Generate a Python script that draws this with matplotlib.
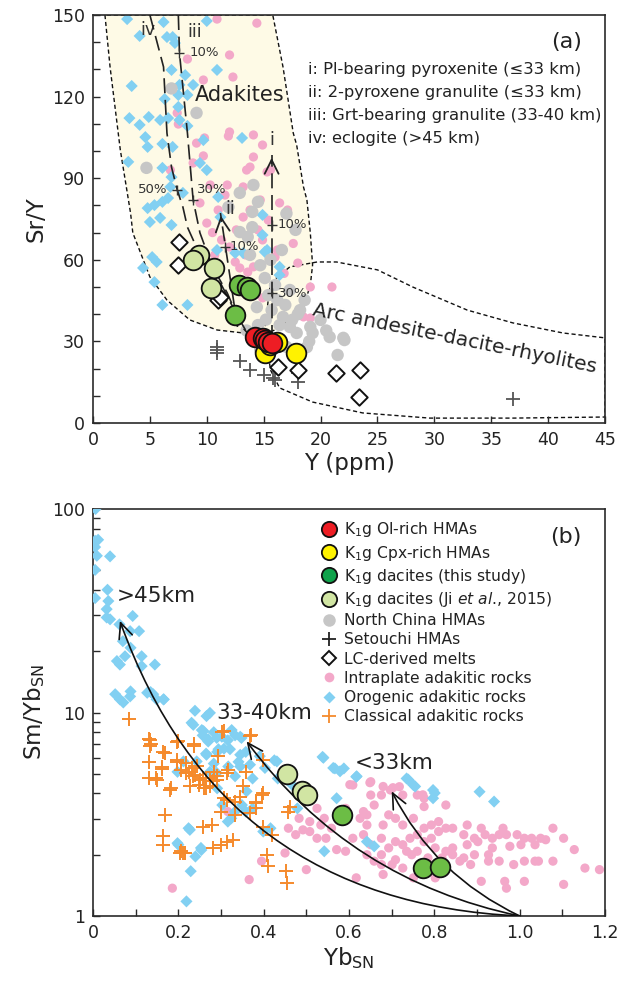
import matplotlib
matplotlib.use("Agg")
import matplotlib.pyplot as plt
import numpy as np
from matplotlib.lines import Line2D
from matplotlib.patches import Polygon, FancyArrowPatch
from matplotlib.ticker import MultipleLocator, FixedLocator, LogLocator, NullFormatter, FuncFormatter

plt.rcParams['font.family'] = ['DejaVu Sans']
plt.rcParams['mathtext.fontset'] = 'dejavusans'

# ---------------- Panel (a) data: Y (ppm) vs Sr/Y ----------------
red_y = [14.2, 14.9, 15.1, 15.4, 15.7]
red_sry = [31.6, 31.3, 30.5, 29.8, 29.4]
yel_y = [15.1, 15.6, 16.2, 17.8]
yel_sry = [25.7, 28.7, 29.8, 25.7]
grn_y = [12.8, 13.5, 13.8, 12.5]
grn_sry = [50.7, 50.1, 48.9, 39.7]
lgr_y = [9.3, 8.8, 10.6, 10.4]
lgr_sry = [61.8, 59.9, 56.9, 49.5]
nch_y = [6.9, 9.1, 4.7, 12.9, 14.1, 14.5, 14.0, 11.9, 14.0, 12.9, 13.6, 13.8, 15.1, 14.4,
         16.2, 16.7, 17.3, 17.9, 19.1, 20.0, 20.8, 22.0, 21.5, 14.7, 19.3, 18.8, 22.1, 15.4,
         15.7, 16.9, 16.4, 17.5, 18.2, 18.6, 17.3, 16.0, 14.7, 15.6, 16.6, 17.8, 17.0, 16.5,
         17.0, 19.0, 20.5, 14.5, 13.5, 15.2, 18.0]
nch_sry = [123, 114, 93.8, 84.6, 87.5, 81.3, 77.6, 79.4, 72.0, 70.2, 68.4, 61.8, 53.3, 42.6,
           45.2, 39.0, 35.3, 33.1, 35.3, 37.9, 31.6, 31.3, 25.0, 26.8, 33.1, 27.9, 30.5, 47.0,
           41.5, 43.4, 36.0, 37.9, 41.5, 45.2, 48.9, 50.7, 58.0, 60.0, 63.6, 71.0, 77.0, 30.0,
           28.0, 30.0, 34.0, 36.0, 34.0, 38.0, 40.0]
seto_y = [10.9, 10.9, 10.9, 12.9, 13.8, 15.0, 15.8, 16.0, 18.0, 18.0, 36.9]
seto_sry = [28.0, 26.8, 25.6, 22.9, 19.5, 17.6, 16.4, 15.8, 18.3, 15.2, 8.8]
lc_y = [7.6, 7.5, 11.0, 11.2, 16.3, 18.0, 21.4, 23.5, 23.4]
lc_sry = [66.5, 58.1, 45.2, 46.3, 20.7, 19.5, 18.4, 19.5, 9.6]
intra_y = [10.9, 14.4, 12.0, 8.3, 12.3, 9.7, 7.4, 7.5, 14.1, 14.9, 11.9, 9.8, 9.1, 9.7, 8.8,
           14.1, 13.8, 15.6, 6.8, 13.2, 16.4, 17.1, 12.0, 13.5, 15.3, 11.8, 17.1, 13.2, 16.2,
           18.0, 14.1, 16.0, 9.4, 10.0, 14.9, 21.0, 18.5, 12.0, 13.6, 14.2, 14.9, 19.1, 18.2,
           19.1, 11.0, 11.6, 10.3, 12.6, 13.4, 11.3, 10.7, 12.5, 15.4, 14.5, 14.7, 13.8, 16.8,
           17.6, 10.5, 12.9]
intra_sry = [148.5, 147, 135.3, 133.8, 127.2, 126.1, 114.0, 109.9, 105.9, 102.2, 105.5,
             104.8, 102.9, 98.2, 95.6, 97.8, 94.1, 93.0, 93.0, 86.8, 80.9, 77.6, 107.0, 93.0,
             92.3, 87.5, 78.3, 75.7, 63.6, 58.8, 57.4, 61.0, 80.9, 73.5, 67.3, 50.0, 39.0,
             64.7, 55.5, 48.9, 46.0, 50.0, 39.7, 38.6, 78.3, 83.8, 87.5, 71.0, 61.8, 67.3,
             61.8, 59.2, 74.6, 71.0, 82.0, 78.3, 55.0, 66.0, 70.0, 57.0]
oro_y = [3.0, 6.2, 10.0, 4.1, 6.5, 7.2, 7.0, 6.9, 8.1, 10.9, 3.4, 7.6, 8.8, 6.3, 7.5, 8.3,
         7.5, 3.2, 4.9, 5.9, 6.6, 4.1, 7.6, 8.3, 9.7, 13.1, 4.6, 4.8, 6.1, 7.0, 3.1, 6.1,
         10.0, 9.4, 6.9, 7.9, 4.8, 6.1, 6.6, 11.0, 6.8, 5.4, 5.0, 5.9, 6.9, 4.4, 5.6, 5.2,
         5.4, 6.1, 8.3, 14.9, 15.1, 16.4, 16.4, 11.2, 13.2, 10.9, 14.9, 15.3, 12.5]
oro_sry = [148.5, 147.4, 147.8, 142.3, 141.9, 139.7, 141.9, 129.8, 127.9, 129.8, 123.9,
           124.3, 124.3, 119.1, 120.6, 120.6, 116.2, 112.1, 112.5, 111.4, 112.1, 109.6,
           111.4, 109.2, 104.0, 104.8, 105.1, 101.5, 102.6, 101.5, 96.0, 93.8, 93.0, 95.6,
           90.4, 84.6, 79.0, 81.3, 82.7, 83.1, 86.8, 80.1, 73.9, 75.4, 72.8, 57.0, 59.2,
           61.0, 51.8, 43.4, 43.4, 76.5, 62.9, 57.4, 54.4, 75.7, 62.5, 63.6, 69.1, 63.6, 62.5]

# field outlines (a)
adak_y = [1.05, 1.5, 2.4, 3.3, 3.5, 5.0, 6.5, 8.5, 10.9, 13.2, 14.5, 16.0, 17.3, 18.5,
          19.1, 19.3, 19.1, 18.8, 18.5, 17.9, 17.6, 16.7, 15.8]
adak_sry = [150, 130.9, 100.4, 77.2, 69.9, 53.7, 45.2, 37.9, 34.2, 33.1, 32.0, 34.2, 37.9,
            42.6, 50.7, 58.1, 69.9, 82.0, 86.8, 102.2, 106.6, 130.9, 150]
arc_y = [15.6, 17.3, 19.7, 21.4, 25.0, 28.1, 32.9, 36.9, 41.3, 45.0, 45.0, 36.9, 29.6,
         23.7, 19.3, 16.4, 15.6, 15.1, 15.4]
arc_sry = [51.5, 57.4, 59.2, 59.2, 56.3, 50.0, 41.5, 36.8, 33.1, 31.3, 2.2, 1.8, 1.8,
           3.7, 7.7, 12.9, 19.5, 34.2, 45.2]

# melting trends (a)
iv_y = [5.0, 6.2, 6.5, 6.9, 7.4, 7.9, 8.3, 9.4, 11.2, 12.65, 13.4]
iv_sry = [150, 130.9, 106.6, 94.1, 85.7, 79.4, 72.0, 61.8, 51.5, 39.7, 34.2]
iii_y = [7.5, 7.6, 8.3, 8.8, 9.4, 10.5, 11.8, 13.1, 13.6]
iii_sry = [150, 136, 106.6, 82, 69.9, 57.4, 47.8, 35.3, 33.0]
ii_y = [12.7, 11.2]
ii_sry = [35.3, 77.2]
i_y = [15.7, 15.7]
i_sry = [30.5, 98.5]
tick_y = [11.6, 7.6, 8.8, 7.4, 15.7, 15.7]
tick_sry = [64.7, 136, 82, 85.7, 72.8, 47.8]
tick_txt = ['10%', '10%', '30%', '50%', '10%', '30%']
tick_txt_y = [12.0, 8.5, 9.15, 6.5, 16.2, 16.3]
tick_txt_sry = [64.8, 136.2, 85.7, 85.7, 72.8, 47.7]
tick_txt_ha = ['left', 'left', 'left', 'right', 'left', 'left']

legend_a = ['i: Pl-bearing pyroxenite (≤33 km)', 'ii: 2-pyroxene granulite (≤33 km)',
            'iii: Grt-bearing granulite (33-40 km)', 'iv: eclogite (>45 km)']

# ---------------- Panel (b) data: Yb_SN vs Sm/Yb_SN ----------------
grn_yb = [0.583, 0.774, 0.813]
grn_smyb = [3.15, 1.72, 1.75]
lgr_yb = [0.455, 0.489, 0.502]
lgr_smyb = [5.01, 4.13, 3.95]
intra_yb = [0.186, 0.366, 0.395, 0.450, 0.500, 0.475, 0.508, 0.534, 0.546, 0.571, 0.592,
            0.617, 0.609, 0.634, 0.651, 0.676, 0.680, 0.659, 0.680, 0.709, 0.726, 0.747,
            0.751, 0.802, 0.785, 0.818, 0.843, 0.869, 0.885, 0.910, 0.927, 0.965, 0.969,
            1.011, 1.036, 1.049, 1.078, 1.103, 1.128, 1.153, 1.187, 1.078, 1.103, 1.061,
            1.028, 1.011, 0.994, 0.969, 0.952, 0.936, 0.919, 0.894, 0.869, 0.843, 0.827,
            0.810, 0.793, 0.776, 0.760, 0.743, 0.726, 0.709, 0.693, 0.676, 0.642, 0.626,
            0.634, 0.659, 0.651, 0.676, 0.697, 0.718, 0.726, 0.760, 0.776, 0.776, 0.827,
            0.751, 0.726, 0.709, 0.693, 0.651, 0.642, 0.609, 0.592, 0.575, 0.559, 0.542,
            0.525, 0.508, 0.483, 0.458, 0.492, 0.525, 0.843, 0.877, 0.894, 0.927, 0.952,
            0.986, 1.011, 1.044, 0.977, 1.003, 1.036, 0.802, 0.827, 0.860, 0.760, 0.735,
            0.701, 0.676, 0.642, 0.902, 0.936, 0.961, 0.810, 0.793, 0.877, 0.910, 0.776,
            0.602, 0.649, 0.680, 0.703, 0.773, 0.316]
intra_smyb = [1.37, 1.51, 1.86, 2.04, 1.69, 2.51, 2.60, 2.80, 2.41, 2.12, 2.08, 1.54, 2.41,
              2.51, 2.24, 2.41, 2.80, 1.86, 1.60, 1.89, 1.72, 2.00, 1.54, 1.54, 1.93, 1.93,
              2.00, 1.93, 1.79, 1.48, 2.00, 1.48, 1.37, 1.48, 1.86, 2.41, 1.86, 1.43, 2.12,
              1.72, 1.69, 2.70, 2.41, 2.37, 2.41, 2.41, 2.51, 2.51, 2.51, 2.41, 2.51, 2.41,
              2.51, 2.70, 2.70, 2.60, 2.41, 2.32, 2.51, 2.41, 2.24, 2.32, 2.16, 2.00, 2.80,
              3.02, 3.26, 3.51, 3.93, 3.93, 4.16, 4.32, 3.93, 3.93, 3.79, 3.45, 3.51, 3.02,
              2.80, 3.02, 3.14, 4.57, 3.14, 4.40, 3.38, 3.02, 2.70, 3.02, 3.38, 2.91, 3.02,
              2.70, 2.65, 2.41, 2.16, 2.24, 2.00, 1.86, 1.86, 1.79, 1.86, 1.86, 2.20, 2.24,
              2.24, 2.16, 2.08, 1.86, 2.08, 2.08, 1.79, 1.79, 2.00, 2.32, 2.16, 2.70, 2.91,
              2.80, 2.80, 2.70, 2.70, 4.42, 4.52, 4.33, 4.27, 3.94, 3.26]
oro_yb = [0.006, 0.005, 0.012, 0.005, 0.009, 0.040, 0.005, 0.034, 0.005, 0.036, 0.032,
          0.032, 0.040, 0.062, 0.093, 0.087, 0.108, 0.070, 0.088, 0.075, 0.114, 0.056,
          0.063, 0.114, 0.145, 0.052, 0.063, 0.071, 0.088, 0.087, 0.127, 0.135, 0.149,
          0.166, 0.239, 0.231, 0.266, 0.274, 0.255, 0.270, 0.290, 0.325, 0.348, 0.141,
          0.165, 0.235, 0.259, 0.270, 0.302, 0.345, 0.294, 0.321, 0.345, 0.266, 0.243,
          0.212, 0.317, 0.345, 0.368, 0.403, 0.431, 0.391, 0.290, 0.333, 0.360, 0.540,
          0.563, 0.579, 0.618, 0.739, 0.755, 0.801, 0.198, 0.224, 0.198, 0.240, 0.253,
          0.229, 0.219, 0.265, 0.274, 0.283, 0.291, 0.303, 0.316, 0.324, 0.333, 0.349,
          0.358, 0.374, 0.399, 0.416, 0.341, 0.358, 0.374, 0.425, 0.433, 0.467, 0.479,
          0.538, 0.567, 0.588, 0.617, 0.571, 0.542, 0.642, 0.659, 0.735, 0.751, 0.797,
          0.797, 0.906, 0.940, 0.257, 0.283, 0.316, 0.333, 0.291, 0.307, 0.227, 0.200,
          0.254]
oro_smyb = [100, 69.8, 70.6, 65, 58.9, 58.5, 50.2, 40.1, 36.5, 35.3, 32.2, 29.3, 28.7,
            27.1, 29.8, 25.1, 25.1, 22.4, 20.8, 18.9, 18.9, 17.9, 17.2, 16.9, 17.2, 12.3,
            11.6, 11.2, 12.7, 12.0, 12.5, 12.6, 11.6, 11.6, 10.2, 8.9, 9.6, 9.96, 8.2, 7.4,
            7.5, 8.2, 7.5, 12.3, 11.6, 8.7, 8.1, 7.2, 7.6, 7.6, 6.6, 6.6, 6.2, 6.2, 5.75,
            5.75, 5.43, 5.43, 5.54, 5.34, 5.75, 6.1, 5.05, 4.86, 4.1, 5.99, 5.34, 5.14,
            4.86, 4.68, 4.33, 4.02, 5.11, 2.70, 2.28, 1.96, 2.16, 1.66, 1.18, 6.28, 5.11,
            5.61, 4.24, 3.51, 2.91, 3.02, 3.26, 3.51, 3.26, 3.38, 2.60, 2.70, 5.72, 6.40,
            4.74, 5.82, 4.74, 4.40, 3.38, 6.05, 5.31, 5.31, 4.83, 3.79, 2.08, 2.32, 2.20,
            4.74, 4.40, 4.16, 3.79, 4.08, 3.65, 7.72, 8.0, 7.30, 7.72, 6.40, 6.64, 2.65,
            2.24, 2.11]
cls_yb = [0.131, 0.136, 0.165, 0.198, 0.236, 0.131, 0.161, 0.131, 0.148, 0.182, 0.198,
          0.207, 0.224, 0.240, 0.257, 0.274, 0.291, 0.249, 0.265, 0.232, 0.283, 0.316,
          0.307, 0.333, 0.383, 0.399, 0.358, 0.303, 0.370, 0.399, 0.169, 0.278, 0.299,
          0.333, 0.383, 0.458, 0.420, 0.165, 0.165, 0.207, 0.211, 0.299, 0.328, 0.408,
          0.453, 0.085, 0.134, 0.134, 0.169, 0.200, 0.237, 0.161, 0.149, 0.180, 0.204,
          0.215, 0.282, 0.313, 0.258, 0.306, 0.368, 0.294, 0.313, 0.383, 0.395, 0.461,
          0.411, 0.454, 0.399, 0.219, 0.235, 0.251, 0.266, 0.282, 0.259, 0.274, 0.227,
          0.290, 0.243, 0.219, 0.196, 0.313, 0.345, 0.368, 0.352]
cls_smyb = [7.43, 7.03, 6.40, 7.16, 7.03, 5.72, 5.41, 4.74, 4.74, 4.24, 5.72, 5.21, 5.11,
            4.92, 4.74, 4.74, 4.65, 4.40, 4.24, 5.31, 5.11, 5.21, 3.79, 3.65, 3.65, 4.01,
            5.11, 8.0, 7.72, 5.82, 3.14, 2.80, 3.26, 3.14, 3.38, 3.26, 2.51, 2.46, 2.24,
            2.08, 2.04, 2.24, 2.37, 2.00, 1.66, 9.3, 7.35, 6.82, 6.33, 7.22, 6.82, 5.25,
            4.68, 4.15, 2.04, 2.04, 2.16, 2.32, 2.75, 8.1, 7.64, 6.08, 5.05, 3.59, 3.95,
            3.43, 1.77, 1.46, 2.75, 5.03, 4.86, 4.68, 4.76, 4.59, 4.26, 4.34, 4.34, 4.86,
            5.44, 5.65, 5.87, 3.72, 3.86, 3.2, 4.34]

# depth trends (b): common origin and arrow tips
trend_origin = (1.0, 1.0)
trend_tip_yb = [0.063, 0.360, 0.700]
trend_tip_smyb = [28.2, 7.22, 4.1]
trend_bend = [-0.335, -0.19, -0.17]
trend_lbl = ['>45km', '33-40km', '<33km']
trend_lbl_yb = [0.056, 0.290, 0.614]
trend_lbl_smyb = [37.3, 9.97, 5.65]

legend_b = [r'K$_1$g Ol-rich HMAs', r'K$_1$g Cpx-rich HMAs', r'K$_1$g dacites (this study)',
            r'K$_1$g dacites (Ji $et\ al$., 2015)', 'North China HMAs', 'Setouchi HMAs',
            'LC-derived melts', 'Intraplate adakitic rocks', 'Orogenic adakitic rocks',
            'Classical adakitic rocks']

# ---------------- styles ----------------
C_RED = '#ee1d24'
C_YEL = '#fff200'
C_GRN = '#6cbd45'
C_GRN_LEG = '#0fa24b'
C_LGR = '#d1e5a3'
C_GRAY = '#c6c6c6'
C_SETO = '#555555'
C_PINK = '#f3a8c9'
C_BLUE = '#82d0f2'
C_ORG = '#f58a2c'
C_FILL = '#fefae6'
TXT = '#222222'

fig = plt.figure(figsize=(6.26, 9.88), dpi=100)
W, H = 626, 988
ax1 = fig.add_axes([93 / W, 1 - 423 / H, 512 / W, 408 / H])
ax2 = fig.add_axes([93 / W, 1 - 916 / H, 512 / W, 407 / H])

for ax in (ax1, ax2):
    for sp in ax.spines.values():
        sp.set_linewidth(1.2)
        sp.set_color('#2a2a2a')
    ax.tick_params(which='both', direction='in', top=False, right=False, length=5,
                   width=1.0, color='#2a2a2a', labelsize=12.5, labelcolor=TXT, pad=6)

# ---------- panel (a) ----------
ax1.set_xlim(0, 45)
ax1.set_ylim(0, 150)
ax1.add_patch(Polygon(np.column_stack([adak_y, adak_sry]), closed=True, facecolor=C_FILL,
                      edgecolor='#111111', ls=(0, (3, 2)), lw=1.0, zorder=0))
ax1.add_patch(Polygon(np.column_stack([arc_y, arc_sry]), closed=True, facecolor='none',
                      edgecolor='#111111', ls=(0, (3, 2)), lw=1.0, zorder=1))

ax1.scatter(intra_y, intra_sry, s=44, c=C_PINK, edgecolors='none', zorder=2)
ax1.scatter(oro_y, oro_sry, s=38, marker='D', c=C_BLUE, edgecolors='none', zorder=2)
ax1.scatter(nch_y, nch_sry, s=80, c=C_GRAY, edgecolors='none', zorder=3)

for xs, ys in ((iv_y, iv_sry), (iii_y, iii_sry), (ii_y, ii_sry), (i_y, i_sry)):
    ax1.plot(xs, ys, color='#222222', lw=1.2, ls=(0, (9, 4)), zorder=4)
for xs, ys in ((ii_y, ii_sry), (i_y, i_sry)):
    ax1.annotate('', xy=(xs[1], ys[1]), xytext=(xs[1] + (xs[0] - xs[1]) * 0.08, ys[1] - 4),
                 arrowprops=dict(arrowstyle='->,head_length=1.0,head_width=0.5',
                                 color='#222222', lw=1.3), zorder=4)
ax1.scatter(tick_y, tick_sry, s=60, marker='+', c='#333333', linewidths=1.0, zorder=4)
for x, y, t, ha in zip(tick_txt_y, tick_txt_sry, tick_txt, tick_txt_ha):
    ax1.text(x, y, t, fontsize=9.5, color='#333333', ha=ha, va='center', zorder=6)

ax1.text(4.8, 144.5, 'iv', fontsize=12.5, color='#333333', ha='center', va='center')
ax1.text(8.9, 143.8, 'iii', fontsize=12.5, color='#333333', ha='center', va='center')
ax1.text(12.1, 78.5, 'ii', fontsize=12.5, color='#333333', ha='center', va='center', zorder=6)
ax1.text(15.7, 104.0, 'i', fontsize=12.5, color='#333333', ha='center', va='center')
ax1.text(12.9, 120.5, 'Adakites', fontsize=15, color=TXT, ha='center', va='center')
ax1.text(31.8, 31.2, 'Arc andesite-dacite-rhyolites', fontsize=14.5, color=TXT,
         ha='center', va='center', rotation=-11.5)

ax1.scatter(seto_y, seto_sry, s=100, marker='+', c=C_SETO, linewidths=1.3, zorder=5)
ax1.scatter(lc_y, lc_sry, s=70, marker='D', facecolors='white', edgecolors='#111111',
            linewidths=1.4, zorder=5)
ax1.scatter(lgr_y, lgr_sry, s=200, c=C_LGR, edgecolors='#111111', linewidths=1.3, zorder=6)
ax1.scatter(grn_y, grn_sry, s=200, c=C_GRN, edgecolors='#111111', linewidths=1.3, zorder=6)
ax1.scatter(yel_y, yel_sry, s=200, c=C_YEL, edgecolors='#111111', linewidths=1.3, zorder=7)
ax1.scatter(red_y, red_sry, s=200, c=C_RED, edgecolors='#111111', linewidths=1.3, zorder=8)

for k, t in enumerate(legend_a):
    ax1.text(0.42, 0.866 - k * 0.0565, t, transform=ax1.transAxes, fontsize=11.8,
             color=TXT, ha='left', va='center')
ax1.text(0.955, 0.935, '(a)', transform=ax1.transAxes, fontsize=16, color=TXT,
         ha='right', va='center')

ax1.xaxis.set_major_locator(MultipleLocator(5))
ax1.yaxis.set_major_locator(MultipleLocator(30))
ax1.yaxis.set_minor_locator(MultipleLocator(10))
ax1.tick_params(which='minor', length=5)
ax1.set_xlabel('Y (ppm)', fontsize=16.5, color=TXT, labelpad=2)
ax1.set_ylabel('Sr/Y', fontsize=16.5, color=TXT, labelpad=3)

# ---------- panel (b) ----------
ax2.set_xlim(0, 1.2)
ax2.set_yscale('log')
ax2.set_ylim(1, 100)
ax2.scatter(intra_yb, intra_smyb, s=44, c=C_PINK, edgecolors='none', zorder=2)
ax2.scatter(oro_yb, oro_smyb, s=38, marker='D', c=C_BLUE, edgecolors='none', zorder=3)
ax2.scatter(cls_yb, cls_smyb, s=90, marker='+', c=C_ORG, linewidths=1.4, zorder=3)

for tx, ty, rad in zip(trend_tip_yb, trend_tip_smyb, trend_bend):
    arr = FancyArrowPatch(trend_origin, (tx, ty), connectionstyle=f'arc3,rad={rad}',
                          arrowstyle='->,head_length=11,head_width=5', color='#111111',
                          lw=1.2, mutation_scale=1, zorder=5, shrinkA=0, shrinkB=0)
    ax2.add_patch(arr)
for x, y, t in zip(trend_lbl_yb, trend_lbl_smyb, trend_lbl):
    ax2.text(x, y, t, fontsize=15.5, color=TXT, ha='left', va='center', zorder=6)

ax2.scatter(lgr_yb, lgr_smyb, s=200, c=C_LGR, edgecolors='#111111', linewidths=1.3, zorder=6)
ax2.scatter(grn_yb, grn_smyb, s=200, c=C_GRN, edgecolors='#111111', linewidths=1.3, zorder=6)

ax2.xaxis.set_major_locator(MultipleLocator(0.2))
ax2.xaxis.set_minor_locator(MultipleLocator(0.1))
ax2.xaxis.set_major_formatter(FuncFormatter(lambda v, p: '0' if abs(v) < 1e-9 else f'{v:.1f}'))
ax2.yaxis.set_major_locator(FixedLocator([1, 10, 100]))
ax2.yaxis.set_major_formatter(FuncFormatter(lambda v, p: f'{v:g}'))
ax2.yaxis.set_minor_locator(LogLocator(base=10, subs=np.arange(2, 10)))
ax2.yaxis.set_minor_formatter(NullFormatter())
ax2.tick_params(which='minor', length=5)
ax2.set_xlabel(r'Yb$_{\mathregular{SN}}$', fontsize=16.5, color=TXT, labelpad=2)
ax2.set_ylabel(r'Sm/Yb$_{\mathregular{SN}}$', fontsize=16.5, color=TXT, labelpad=3)
ax2.text(0.955, 0.93, '(b)', transform=ax2.transAxes, fontsize=16, color=TXT,
         ha='right', va='center')

kw = dict(ls='none', markeredgecolor='#111111', markeredgewidth=1.3)
handles = [
    Line2D([], [], marker='o', ms=11, markerfacecolor=C_RED, **kw),
    Line2D([], [], marker='o', ms=11, markerfacecolor=C_YEL, **kw),
    Line2D([], [], marker='o', ms=11, markerfacecolor=C_GRN_LEG, **kw),
    Line2D([], [], marker='o', ms=11, markerfacecolor=C_LGR, **kw),
    Line2D([], [], marker='o', ms=9, ls='none', markerfacecolor=C_GRAY, markeredgecolor='none'),
    Line2D([], [], marker='+', ms=10, ls='none', color='#222222', markeredgewidth=1.3),
    Line2D([], [], marker='D', ms=7, ls='none', markerfacecolor='white',
           markeredgecolor='#111111', markeredgewidth=1.4),
    Line2D([], [], marker='o', ms=7, ls='none', markerfacecolor=C_PINK, markeredgecolor='none'),
    Line2D([], [], marker='D', ms=6, ls='none', markerfacecolor=C_BLUE, markeredgecolor='none'),
    Line2D([], [], marker='+', ms=10, ls='none', color=C_ORG, markeredgewidth=1.3),
]
ax2.legend(handles, legend_b, loc='upper left', bbox_to_anchor=(0.445, 0.972),
           frameon=False, fontsize=11.2, handlelength=1.0, handletextpad=0.5,
           labelspacing=0.27, borderpad=0, borderaxespad=0, labelcolor=TXT)

fig.savefig('out.png', dpi=100)
